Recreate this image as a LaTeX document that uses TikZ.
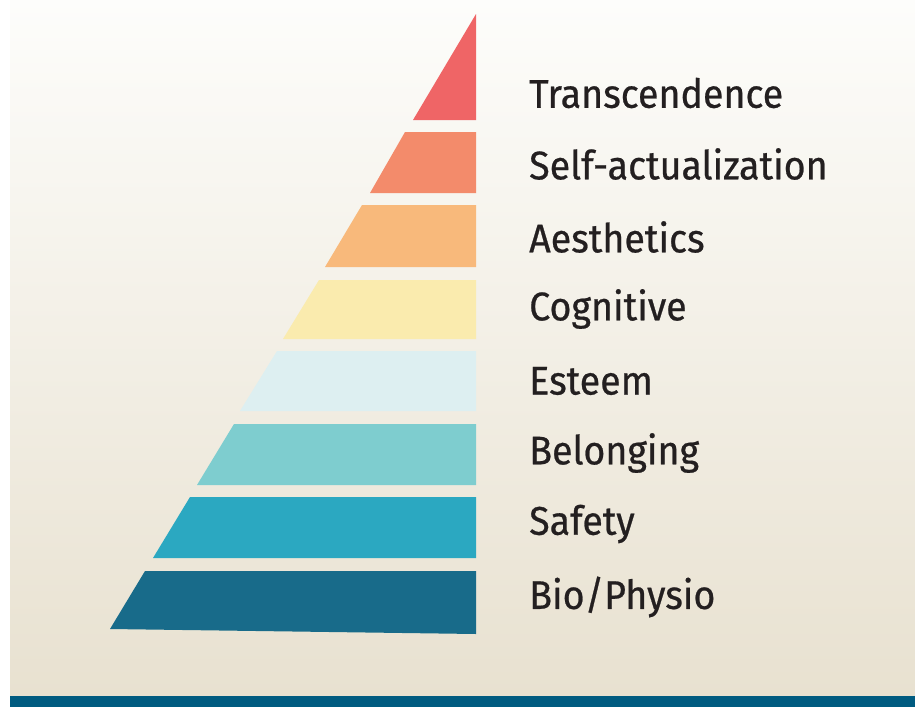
\documentclass[tikz,border=0pt]{standalone}
\usepackage{fontspec}
\setmainfont[FakeStretch=0.94,FakeBold=0.6]{Fira Sans}
\usepackage{tikz}
\definecolor{transc}{HTML}{EF6566}
\definecolor{selfact}{HTML}{F38B6B}
\definecolor{aesth}{HTML}{F8B97B}
\definecolor{cogn}{HTML}{FAEBAE}
\definecolor{esteem}{HTML}{DDEFF1}
\definecolor{belong}{HTML}{7ECDCF}
\definecolor{safety}{HTML}{2BA8C1}
\definecolor{bio}{HTML}{186B8A}
\definecolor{bar}{HTML}{005B80}
\definecolor{bgtop}{HTML}{FDFDFB}
\definecolor{bgbot}{HTML}{E8E1D0}
\definecolor{ink}{HTML}{231F20}
\tikzset{level/.style={draw=none}}
\tikzset{label/.style={anchor=west,inner sep=0pt,text=ink,font=\fontsize{40}{44}\selectfont}}

\begin{document}
\begin{tikzpicture}[x=1pt,y=-1pt]
    \useasboundingbox (0,0) rectangle (915,707);
    \fill[white] (0,0) rectangle (915,707);
    \shade[top color=bgtop,bottom color=bgbot] (10,0) rectangle (915,696);
    \fill[bar] (10,696) rectangle (915,707);
    % pyramid, top to bottom
    \fill[level,transc] (476,14) -- (413,120) -- (476,120) -- cycle;
    \fill[level,selfact] (405,132) -- (370,193) -- (476,193) -- (476,132) -- cycle;
    \fill[level,aesth] (362,205) -- (325,267) -- (476,267) -- (476,205) -- cycle;
    \fill[level,cogn] (319,280) -- (283,339) -- (476,339) -- (476,280) -- cycle;
    \fill[level,esteem] (277,351) -- (240,411) -- (476,411) -- (476,351) -- cycle;
    \fill[level,belong] (234,424) -- (197,485) -- (476,485) -- (476,424) -- cycle;
    \fill[level,safety] (190,497) -- (153,558) -- (476,558) -- (476,497) -- cycle;
    \fill[level,bio] (145,571) -- (110,629) -- (476,634) -- (476,571) -- cycle;
    % labels
    \node[label] (transcendence) at (529,93) {Transcendence};
    \node[label] (selfact) at (529,164) {Self-actualization};
    \node[label] (aesthetics) at (529,237) {Aesthetics};
    \node[label] (cognitive) at (529,309) {Cognitive};
    \node[label] (esteem) at (529,381) {Esteem};
    \node[label] (belonging) at (529,453) {Belonging};
    \node[label] (safety) at (529,524) {Safety};
    \node[label] (bio) at (529,597) {Bio/Physio};
\end{tikzpicture}
\end{document}
